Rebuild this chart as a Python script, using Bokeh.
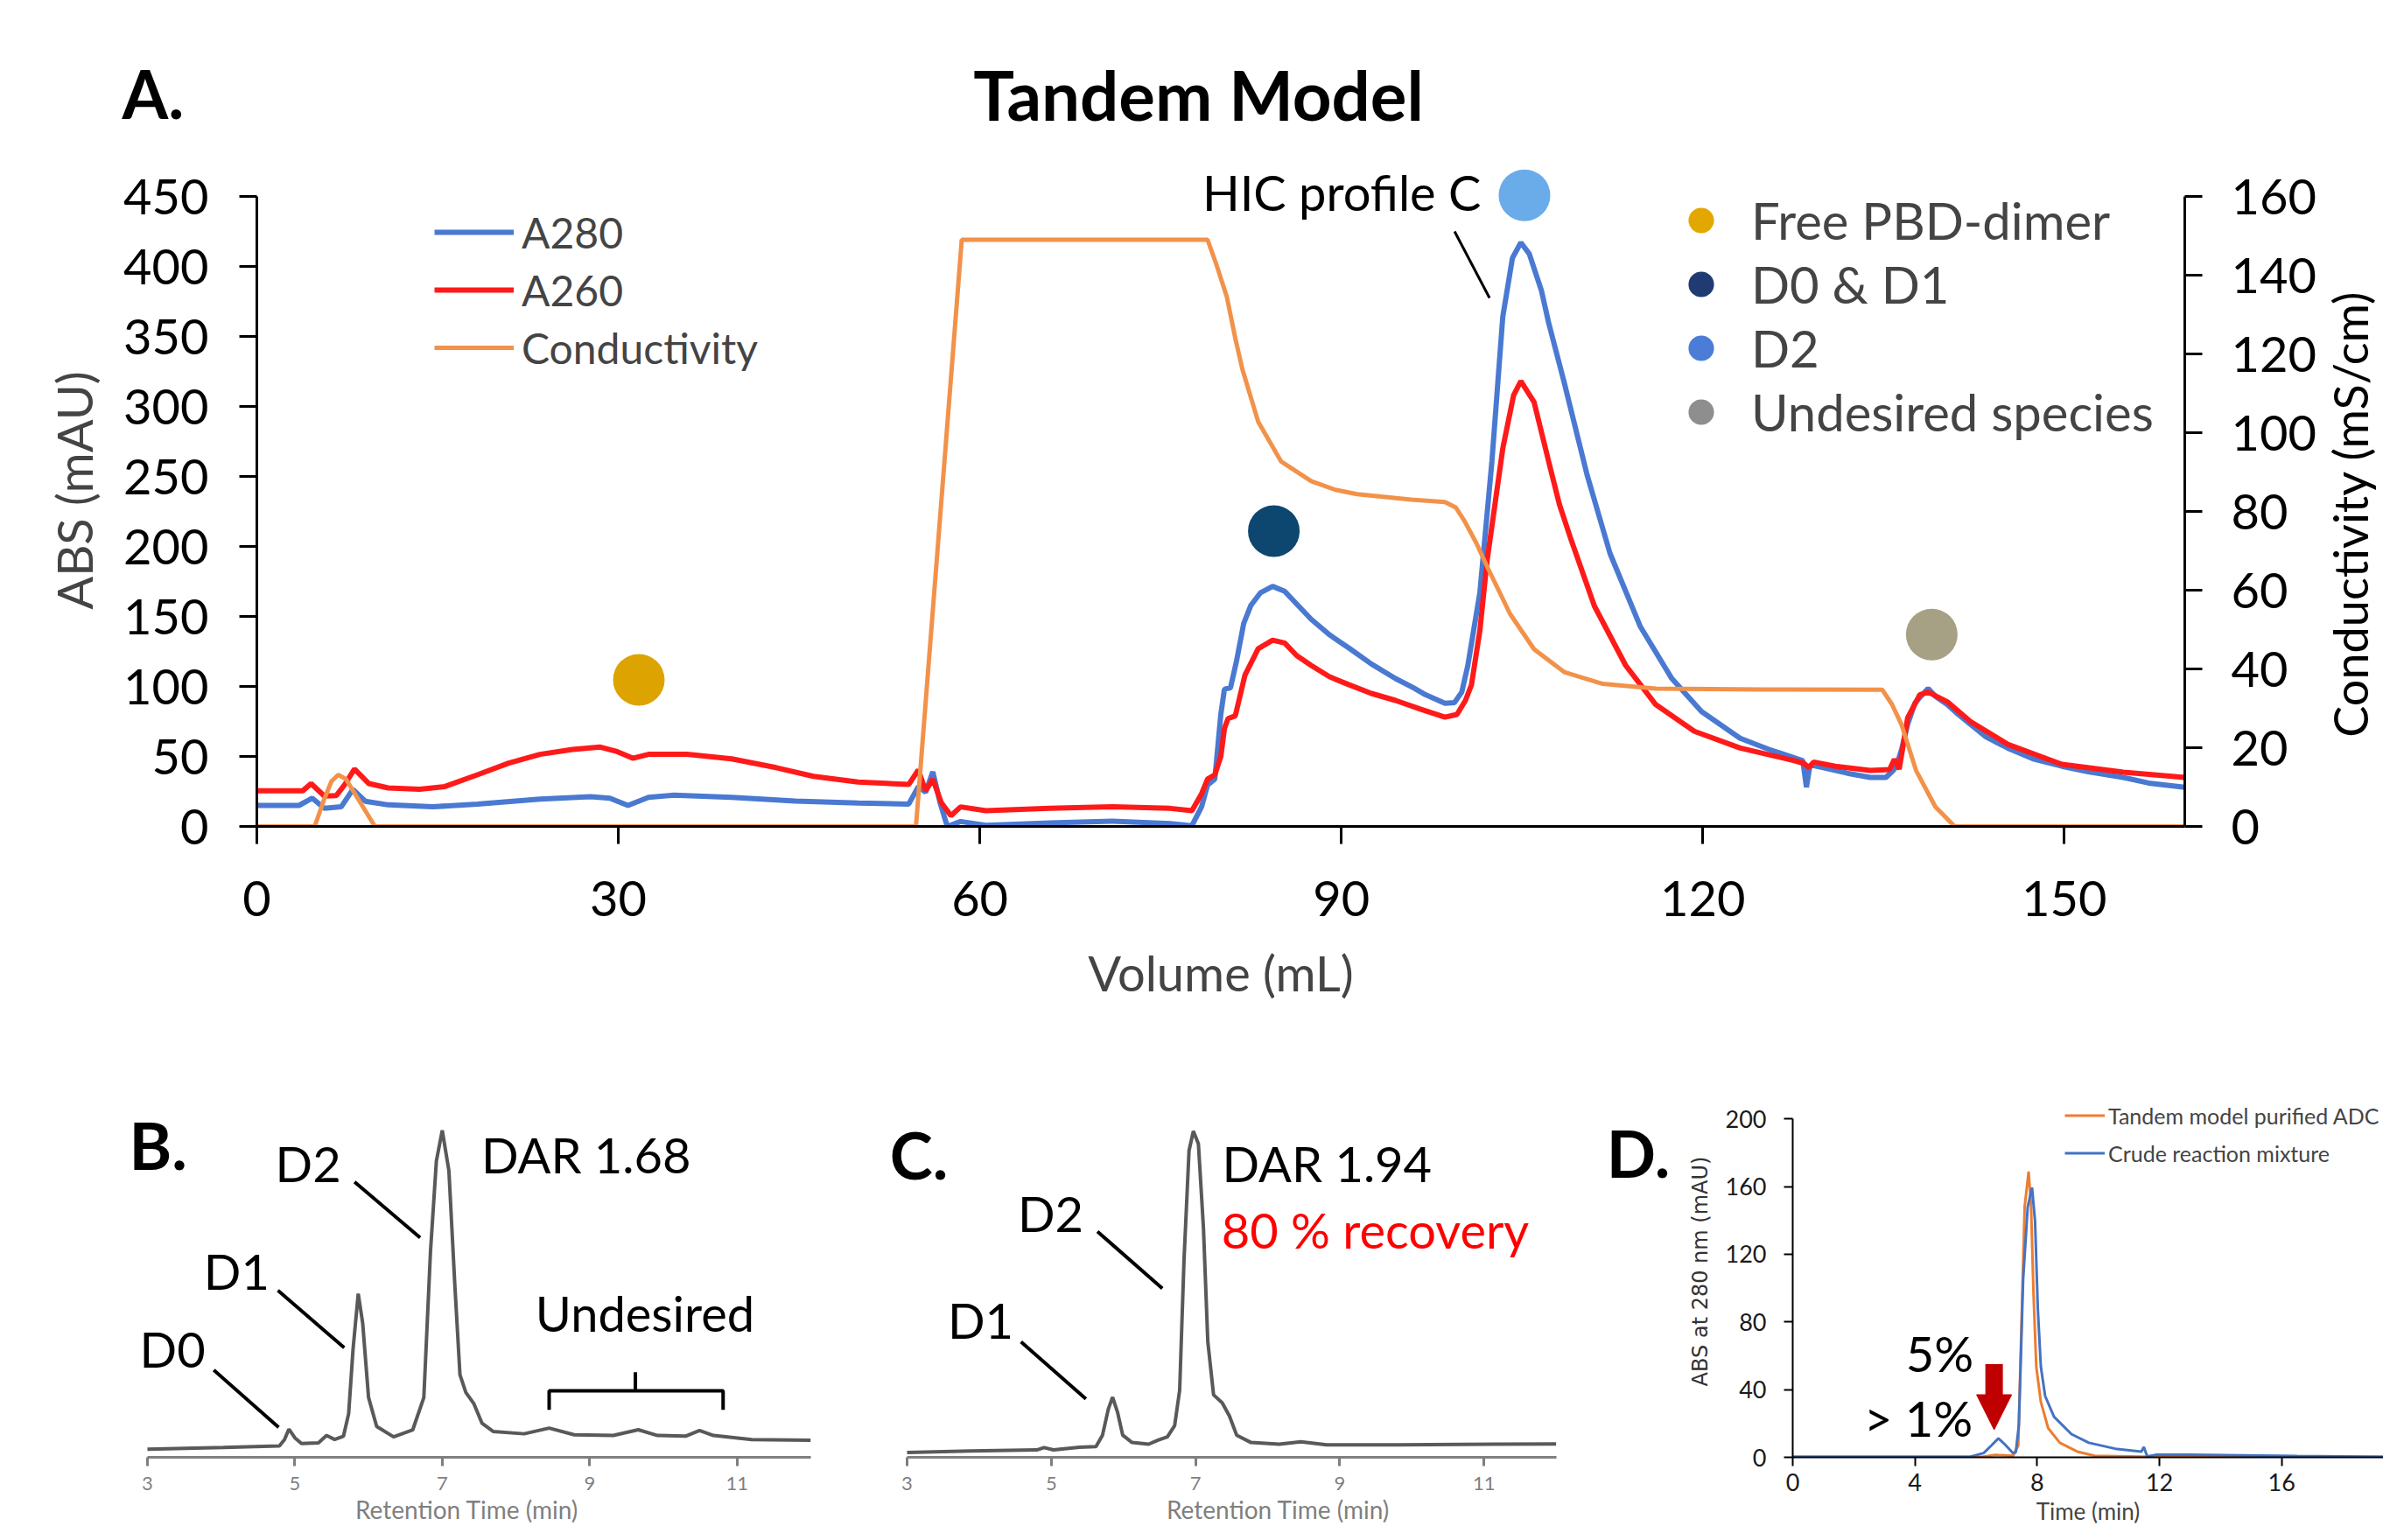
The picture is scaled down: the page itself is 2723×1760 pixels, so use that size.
import math
from bokeh.plotting import figure
from bokeh.models import (Range1d, LinearAxis, FixedTicker, Legend, LegendItem,
                          Label, Arrow, NormalHead)
from bokeh.layouts import column, row
from bokeh.embed import file_html
from bokeh.resources import INLINE

FONT = "Lato"

# ------------------------------------------------------------------ data
# Panel A : tandem chromatogram (volume in mL)
a280_vol = [0, 3.5, 4.6, 5.6, 7.0, 7.97, 9.0, 10.9, 14.6, 18.3, 23.5, 27.7, 29.3, 30.8, 32.5, 34.6,
            39.4, 44.7, 49.9, 54.1, 54.9, 55.5, 56.1, 56.7, 57.3, 58.4, 60.5, 65.8, 71, 75.8, 77.6,
            78.4, 78.9, 79.5, 80.0, 80.3, 80.8, 81.3, 81.9, 82.5, 83.3, 84.3, 85.3, 86.5, 87.5, 89,
            90.7, 92.5, 94.5, 96, 97, 98.6, 99.4, 100, 100.5, 101.5, 102.5, 103.4, 104.2, 104.9,
            105.6, 106.6, 107.2, 108.5, 110.4, 112.3, 114.8, 117.4, 119.9, 123.1, 125.5, 127.6,
            128.3, 128.6, 128.9, 130, 132, 133.9, 135.2, 135.8, 136.1, 136.5, 137, 137.6, 138.0,
            138.7, 139.3, 140.3, 141.2, 142.2, 143.5, 145.3, 147.5, 149.8, 152, 154.9, 157, 160]
a280_abs = [15, 15, 20.2, 13, 14, 26.5, 18, 15.4, 14, 16, 19.6, 21.2, 20.2, 15, 20.8, 22.3,
            20.8, 18.1, 16.7, 16, 28.5, 24.4, 39, 17, 0, 3.5, 0.8, 2.5, 3.7, 2, 0.5,
            14, 29.6, 33.8, 80, 98, 99, 118, 145, 158, 167, 171.5, 168, 157, 148, 137,
            127, 116, 105.6, 99, 94, 88, 88.5, 96, 115, 167, 261, 364, 406, 417,
            409, 383, 360, 317, 251, 195, 143, 106, 82, 63, 55, 49,
            47, 28, 44, 42, 38, 35, 35, 40, 44, 55, 73, 88, 92,
            98.6, 93, 87, 80, 73, 64, 56, 48, 43, 39, 35, 31, 28]

a260_vol = [0, 3.8, 4.5, 5.6, 6.6, 7.3, 8.1, 9.3, 10.9, 13.5, 15.6, 18.3, 20.9, 23.5, 26.2, 28.5,
            29.9, 31.2, 32.5, 35.7, 39.4, 43.1, 46.2, 49.9, 54.1, 54.9, 55.5, 56.1, 56.8, 57.6,
            58.4, 60.5, 65.8, 71, 75.8, 77.6, 78.4, 78.9, 79.5, 80.0, 80.3, 80.6, 81.2, 82, 83.1,
            84.3, 85.3, 86.3, 87.5, 89, 90.7, 92.5, 94.5, 96.5, 98.6, 99.6, 100.3, 100.8, 101.5,
            102.1, 103.4, 104.3, 104.9, 106, 107.2, 108.1, 109.1, 111, 113.6, 116.1, 119.3, 123.1,
            127.6, 128.4, 128.8, 129.2, 131, 133.9, 135.5, 135.9, 136.3, 137, 138, 138.7, 140.3,
            142.2, 145.3, 149.8, 154.9, 160]
a260_abs = [25.4, 25.4, 30.6, 21.7, 22.1, 30, 41, 30.6, 27.5, 26.5, 28.5, 36.9, 45.2, 51.5, 55, 56.7,
            53.5, 48.7, 51.5, 51.5, 48.3, 42, 35.8, 31.7, 30, 40.4, 25.4, 33.8, 17, 7.7,
            14, 11.2, 12.9, 14, 12.9, 11.2, 23.3, 33.8, 36.9, 50, 70, 77, 79, 108, 127,
            133, 131, 122, 115, 107, 101, 95, 90, 84, 78, 80, 90, 101, 140,
            190, 270, 308, 318, 303, 261, 230, 204, 157.5, 115, 87, 68, 56,
            47, 45, 42, 46, 43, 40, 40.6, 48, 41, 77.5, 94, 96, 89,
            75, 58.7, 44.4, 38.8, 35]

cond_vol = [0, 4.8, 5.6, 6.2, 6.75, 7.4, 8.4, 9.8, 54.7, 58.5, 78.9, 79.6, 80.5, 81.2, 81.8, 83.1,
            85, 87.5, 89.5, 91.3, 95.8, 98.6, 99.5, 100.2, 101.2, 102.1, 104, 106, 108.5, 111.7,
            116.1, 125, 134.9, 135.7, 136.5, 137.7, 139.3, 140.9, 160]
cond_val = [0, 0, 7, 11.5, 13.1, 12, 7, 0, 0, 149, 149, 143, 134.5, 124, 116, 102.8,
            92.7, 87.7, 85.5, 84.4, 83, 82.4, 81, 77.7, 72, 66, 54, 45, 39.2, 36.2,
            35, 34.8, 34.7, 31, 25.8, 14.2, 5, 0, 0]

species = ["Free PBD-dimer", "D0 & D1", "D2", "Undesired species"]
species_vol = [31.7, 84.4, 105.2, 139.0]
species_abs = [104.7, 211, 450.8, 137.1]
species_plot_color = ["#DDA300", "#0D476F", "#6AABEA", "#A6A184"]
species_legend_color = ["#E3A800", "#1F3B72", "#4C7DD6", "#8E8E8E"]

a_xticks = [0, 30, 60, 90, 120, 150]
a_yticks = [0, 50, 100, 150, 200, 250, 300, 350, 400, 450]
a_cticks = [0, 20, 40, 60, 80, 100, 120, 140, 160]

# Panel B : HIC profile of crude (retention time, min)
b_time = [3.0, 4.03, 4.79, 4.86, 4.92, 5.0, 5.09, 5.32, 5.43, 5.54, 5.66, 5.73, 5.79, 5.86, 5.92,
          6.0, 6.11, 6.34, 6.6, 6.75, 6.84, 6.92, 7.0, 7.09, 7.17, 7.24, 7.32, 7.43, 7.54, 7.69,
          8.11, 8.45, 8.79, 9.32, 9.66, 9.92, 10.3, 10.49, 10.68, 11.2, 12.0]
b_signal = [2.4, 2.9, 3.4, 5.3, 8.4, 5.8, 4.1, 4.3, 6.5, 5.3, 6.3, 13, 32.3, 48.7, 40,
            17.8, 9.2, 6.1, 8.2, 17.8, 61.2, 88.2, 97.3, 85.3, 51.5, 24.6, 19.3, 15.9, 10.1, 7.7,
            7.0, 8.7, 6.7, 6.5, 8.2, 6.5, 6.3, 8.0, 6.5, 5.3, 5.1]

# Panel C : HIC profile of purified D2
c_time = [3.0, 3.88, 4.8, 4.9, 5.03, 5.39, 5.62, 5.71, 5.79, 5.85, 5.92, 5.99, 6.12, 6.35, 6.48,
          6.61, 6.71, 6.78, 6.84, 6.91, 6.97, 7.04, 7.11, 7.17, 7.25, 7.37, 7.47, 7.57, 7.77,
          8.16, 8.46, 8.82, 9.81, 11.13, 12.0]
c_signal = [1.45, 1.9, 2.2, 2.9, 2.2, 3.0, 3.2, 6.6, 14.3, 17.9, 13.3, 6.6, 4.4, 3.9, 5.1,
            6.1, 9.4, 20, 58.6, 91.3, 97.1, 93.3, 68.2, 34.5, 18.6, 16.2, 12.3, 6.6, 4.4,
            3.9, 4.6, 3.7, 3.7, 3.9, 4.0]

rt_ticks = [3, 5, 7, 9, 11]

# Panel D : SEC traces (time, min ; mAU)
d_crude_t = [0, 5.8, 6.25, 6.5, 6.73, 6.95, 7.21, 7.3, 7.40, 7.54, 7.69, 7.83, 7.93, 8.02, 8.12,
             8.26, 8.55, 9.12, 9.69, 10.55, 11.41, 11.49, 11.6, 11.88, 12.94, 16.5, 19.4]
d_crude_y = [0.3, 0.3, 2.5, 7, 11.2, 7.5, 2.5, 3, 19, 105, 148, 159.4, 139.6, 87.9, 53.5,
             36.2, 24, 13.7, 8.6, 5.1, 3.4, 6.1, 0.5, 1.5, 1.5, 0.8, 0.3]
d_pure_t = [0, 6.2, 6.63, 7.21, 7.38, 7.5, 7.59, 7.72, 7.80, 7.88, 7.97, 8.12, 8.36, 8.74, 9.31,
            9.88, 11.4, 19.4]
d_pure_y = [0.2, 0.3, 1.4, 0.9, 7, 87.9, 148, 168.9, 148, 96.5, 53.5, 32.7, 17.2, 8.6, 3.4,
            0.9, 0.4, 0.2]
d_xticks = [0, 4, 8, 12, 16]
d_yticks = [0, 40, 80, 120, 160, 200]

BLUE = "#4A79D2"
RED = "#FF1A1A"
ORANGE = "#F2924A"
GRAY = "#595959"


def style_axis(ax, size, color, width, tick_out, standoff, label_color=None):
    ax.axis_line_color = color
    ax.axis_line_width = width
    ax.major_tick_line_color = color
    ax.major_tick_line_width = width
    ax.major_tick_out = tick_out
    ax.major_tick_in = 0
    ax.minor_tick_line_color = None
    ax.major_label_text_font = FONT
    ax.major_label_text_font_size = size
    ax.major_label_text_color = label_color or color
    ax.major_label_standoff = standoff
    ax.axis_label_text_font = FONT
    ax.axis_label_text_font_style = "normal"


def add_text(p, x, y, text, size, align="left", bold=False, color="black", angle=0.0,
             font=FONT, baseline="middle"):
    p.add_layout(Label(x=x, y=y, text=text, text_font=font, text_font_size=size,
                       text_align=align, text_baseline=baseline, text_color=color,
                       text_font_style="bold" if bold else "normal", angle=angle))


def base_fig(**kw):
    p = figure(output_backend="svg", toolbar_location=None, **kw)
    p.grid.visible = False
    p.outline_line_color = None
    p.background_fill_color = "white"
    p.border_fill_color = "white"
    return p


# ------------------------------------------------------------------ top strip (title)
pT = base_fig(width=2723, height=168, x_range=Range1d(0, 2723), y_range=Range1d(0, 168),
              min_border_left=0, min_border_right=0, min_border_top=0, min_border_bottom=0,
              x_axis_location=None, y_axis_location=None)
add_text(pT, 1369, 61, "Tandem Model", "78px", align="center", bold=True)
add_text(pT, 139, 62, "A.", "76px", bold=True)

# ------------------------------------------------------------------ panel A
pA = base_fig(width=2649, height=1022, x_range=Range1d(0, 160), y_range=Range1d(0, 480),
              min_border_left=293, min_border_right=152, min_border_top=8, min_border_bottom=246)
pA.extra_y_ranges = {"cond": Range1d(0, 160 * 480 / 450)}

r280 = pA.line(a280_vol, a280_abs, line_color=BLUE, line_width=6)
r260 = pA.line(a260_vol, a260_abs, line_color=RED, line_width=6)
rcond = pA.line(cond_vol, cond_val, line_color=ORANGE, line_width=5, y_range_name="cond")

leg_species = []
for name, vx, vy, col in zip(species, species_vol, species_abs, species_legend_color):
    r = pA.scatter([vx], [vy], size=30, fill_color=col, line_color=None)
    leg_species.append(LegendItem(label=name, renderers=[r]))
for vx, vy, col in zip(species_vol, species_abs, species_plot_color):
    pA.scatter([vx], [vy], size=59, fill_color=col, line_color=None)

xa = pA.xaxis[0]
xa.ticker = FixedTicker(ticks=a_xticks)
xa.bounds = (0, 160)
xa.axis_label = "Volume (mL)"
style_axis(xa, "56px", "black", 3, 20, 42)
xa.axis_label_text_font_size = "56px"
xa.axis_label_standoff = 28

ya = pA.yaxis[0]
ya.ticker = FixedTicker(ticks=a_yticks)
ya.bounds = (0, 450)
ya.axis_label = "ABS (mAU)"
style_axis(ya, "56px", "black", 3, 20, 35)
ya.axis_label_text_font_size = "56px"
ya.axis_label_standoff = 20

ra = LinearAxis(y_range_name="cond", ticker=FixedTicker(ticks=a_cticks), bounds=(0, 160))
style_axis(ra, "56px", "black", 3, 20, 33)
pA.add_layout(ra, "right")

leg1 = Legend(items=[LegendItem(label="A280", renderers=[r280]),
                     LegendItem(label="A260", renderers=[r260]),
                     LegendItem(label="Conductivity", renderers=[rcond])],
              location=(203, 514), glyph_width=91, glyph_height=66, label_height=66,
              spacing=0, padding=0, margin=0, label_standoff=9,
              label_text_font=FONT, label_text_font_size="48px",
              border_line_color=None, background_fill_alpha=0)
pA.add_layout(leg1)
leg2 = Legend(items=leg_species, location=(1613, 437), glyph_width=75, glyph_height=73,
              label_height=73, spacing=0, padding=0, margin=0, label_standoff=20,
              label_text_font=FONT, label_text_font_size="58px",
              border_line_color=None, background_fill_alpha=0)
pA.add_layout(leg2)

hic_line_x = [99.4, 102.3]
hic_line_y = [425, 377.5]
pA.line(hic_line_x, hic_line_y, line_color="black", line_width=3)
add_text(pA, 101.6, 453, "HIC profile C", "56px", align="right")

# right strip holding the conductivity axis title
pR = base_fig(width=74, height=1022, x_range=Range1d(0, 74), y_range=Range1d(0, 768),
              min_border_left=0, min_border_right=0, min_border_top=8, min_border_bottom=246,
              x_axis_location=None, y_axis_location=None)
add_text(pR, 36, 357, "Conductivity (mS/cm)", "54px", align="center", angle=math.pi / 2)

# ------------------------------------------------------------------ panel B
ROW_H = 570
pB = base_fig(width=990, height=ROW_H, x_range=Range1d(2.668, 12), y_range=Range1d(0, 110.7),
              min_border_left=140, min_border_right=64, min_border_top=50, min_border_bottom=95,
              y_axis_location=None)
pB.line(b_time, b_signal, line_color=GRAY, line_width=4)
bx = pB.xaxis[0]
bx.ticker = FixedTicker(ticks=rt_ticks)
bx.bounds = (3, 12)
bx.axis_label = "Retention Time (min)"
style_axis(bx, "22px", "#7F7F7F", 3, 10, 12)
bx.axis_label_text_font_size = "28px"
bx.axis_label_text_color = "#7F7F7F"
bx.axis_label_standoff = 2

b_lead_x0 = [5.81, 4.77, 3.90]
b_lead_y0 = [82.0, 49.7, 26.0]
b_lead_x1 = [6.70, 5.67, 4.78]
b_lead_y1 = [65.4, 32.6, 8.9]
pB.segment(b_lead_x0, b_lead_y0, b_lead_x1, b_lead_y1, line_color="black", line_width=4)
bracket_x = [8.45, 8.45, 10.81, 10.81]
bracket_y = [14.1, 19.8, 19.8, 14.1]
pB.line(bracket_x, bracket_y, line_color="black", line_width=4)
pB.line([9.62, 9.62], [19.8, 25.3], line_color="black", line_width=4)
add_text(pB, 2.75, 93, "B.", "74px", bold=True)
add_text(pB, 5.18, 87.5, "D2", "56px", align="center")
add_text(pB, 7.53, 90.1, "DAR 1.68", "56px")
add_text(pB, 4.21, 55.5, "D1", "56px", align="center")
add_text(pB, 3.34, 32.3, "D0", "56px", align="center")
add_text(pB, 9.75, 43, "Undesired", "56px", align="center")

# ------------------------------------------------------------------ panel C (+ "D." letter)
pC = base_fig(width=925, height=ROW_H, x_range=Range1d(2.624, 13.667), y_range=Range1d(0, 110.7),
              min_border_left=15, min_border_right=0, min_border_top=50, min_border_bottom=95,
              y_axis_location=None)
pC.line(c_time, c_signal, line_color=GRAY, line_width=4)
cx = pC.xaxis[0]
cx.ticker = FixedTicker(ticks=rt_ticks)
cx.bounds = (3, 12)
cx.axis_label = "Retention Time (min)"
style_axis(cx, "22px", "#7F7F7F", 3, 10, 12)
cx.axis_label_text_font_size = "28px"
cx.axis_label_text_color = "#7F7F7F"
cx.axis_label_standoff = 2

c_lead_x0 = [5.64, 4.58]
c_lead_y0 = [67.2, 34.4]
c_lead_x1 = [6.54, 5.48]
c_lead_y1 = [50.3, 17.4]
pC.segment(c_lead_x0, c_lead_y0, c_lead_x1, c_lead_y1, line_color="black", line_width=4)
add_text(pC, 2.76, 90.1, "C.", "74px", bold=True)
add_text(pC, 4.99, 72.7, "D2", "56px", align="center")
add_text(pC, 7.37, 87.5, "DAR 1.94", "56px")
add_text(pC, 7.36, 67.7, "80 % recovery", "56px", color="#FF0000")
add_text(pC, 4.02, 40.9, "D1", "56px", align="center")
add_text(pC, 12.70, 90.6, "D.", "74px", bold=True)

# ------------------------------------------------------------------ panel D
pD = base_fig(width=808, height=ROW_H, x_range=Range1d(0, 19.33), y_range=Range1d(0, 219.75),
              min_border_left=133, min_border_right=0, min_border_top=50, min_border_bottom=95)
rd_pure = pD.line(d_pure_t, d_pure_y, line_color="#ED7D31", line_width=3)
rd_crude = pD.line(d_crude_t, d_crude_y, line_color="#4472C4", line_width=3)
dx = pD.xaxis[0]
dx.ticker = FixedTicker(ticks=d_xticks)
dx.axis_label = "Time (min)"
style_axis(dx, "27px", "black", 2, 10, 8, label_color="#1A1A1A")
dx.axis_label_text_font_size = "26px"
dx.axis_label_standoff = 4
dy = pD.yaxis[0]
dy.ticker = FixedTicker(ticks=d_yticks)
dy.bounds = (0, 200)
dy.axis_label = "ABS at 280 nm (mAU)"
style_axis(dy, "27px", "black", 2, 10, 20, label_color="#1A1A1A")
dy.axis_label_text_font = "DejaVu Sans"
dy.axis_label_text_font_size = "24px"
dy.axis_label_text_color = "#333333"
dy.axis_label_standoff = 12

legD = Legend(items=[LegendItem(label="Tandem model purified ADC", renderers=[rd_pure]),
                     LegendItem(label="Crude reaction mixture", renderers=[rd_crude])],
              location=(311, 326), glyph_width=46, glyph_height=43, label_height=43,
              spacing=0, padding=0, margin=0, label_standoff=4,
              label_text_font=FONT, label_text_font_size="25px",
              border_line_color=None, background_fill_alpha=0)
pD.add_layout(legD)

arrow_t = 6.59
arrow_top = 55.1
arrow_tip = 16.3
pD.add_layout(Arrow(end=NormalHead(size=40, fill_color="#C00000", line_color="#C00000"),
                    x_start=arrow_t, y_start=arrow_top, x_end=arrow_t, y_end=arrow_tip,
                    line_color="#C00000", line_width=20))
add_text(pD, 5.92, 61.3, "5%", "56px", align="right")
add_text(pD, 5.89, 23.1, "> 1%", "56px", align="right")

layout = column(pT, row(pA, pR), row(pB, pC, pD))
open("out.html", "w").write(file_html(layout, INLINE))
